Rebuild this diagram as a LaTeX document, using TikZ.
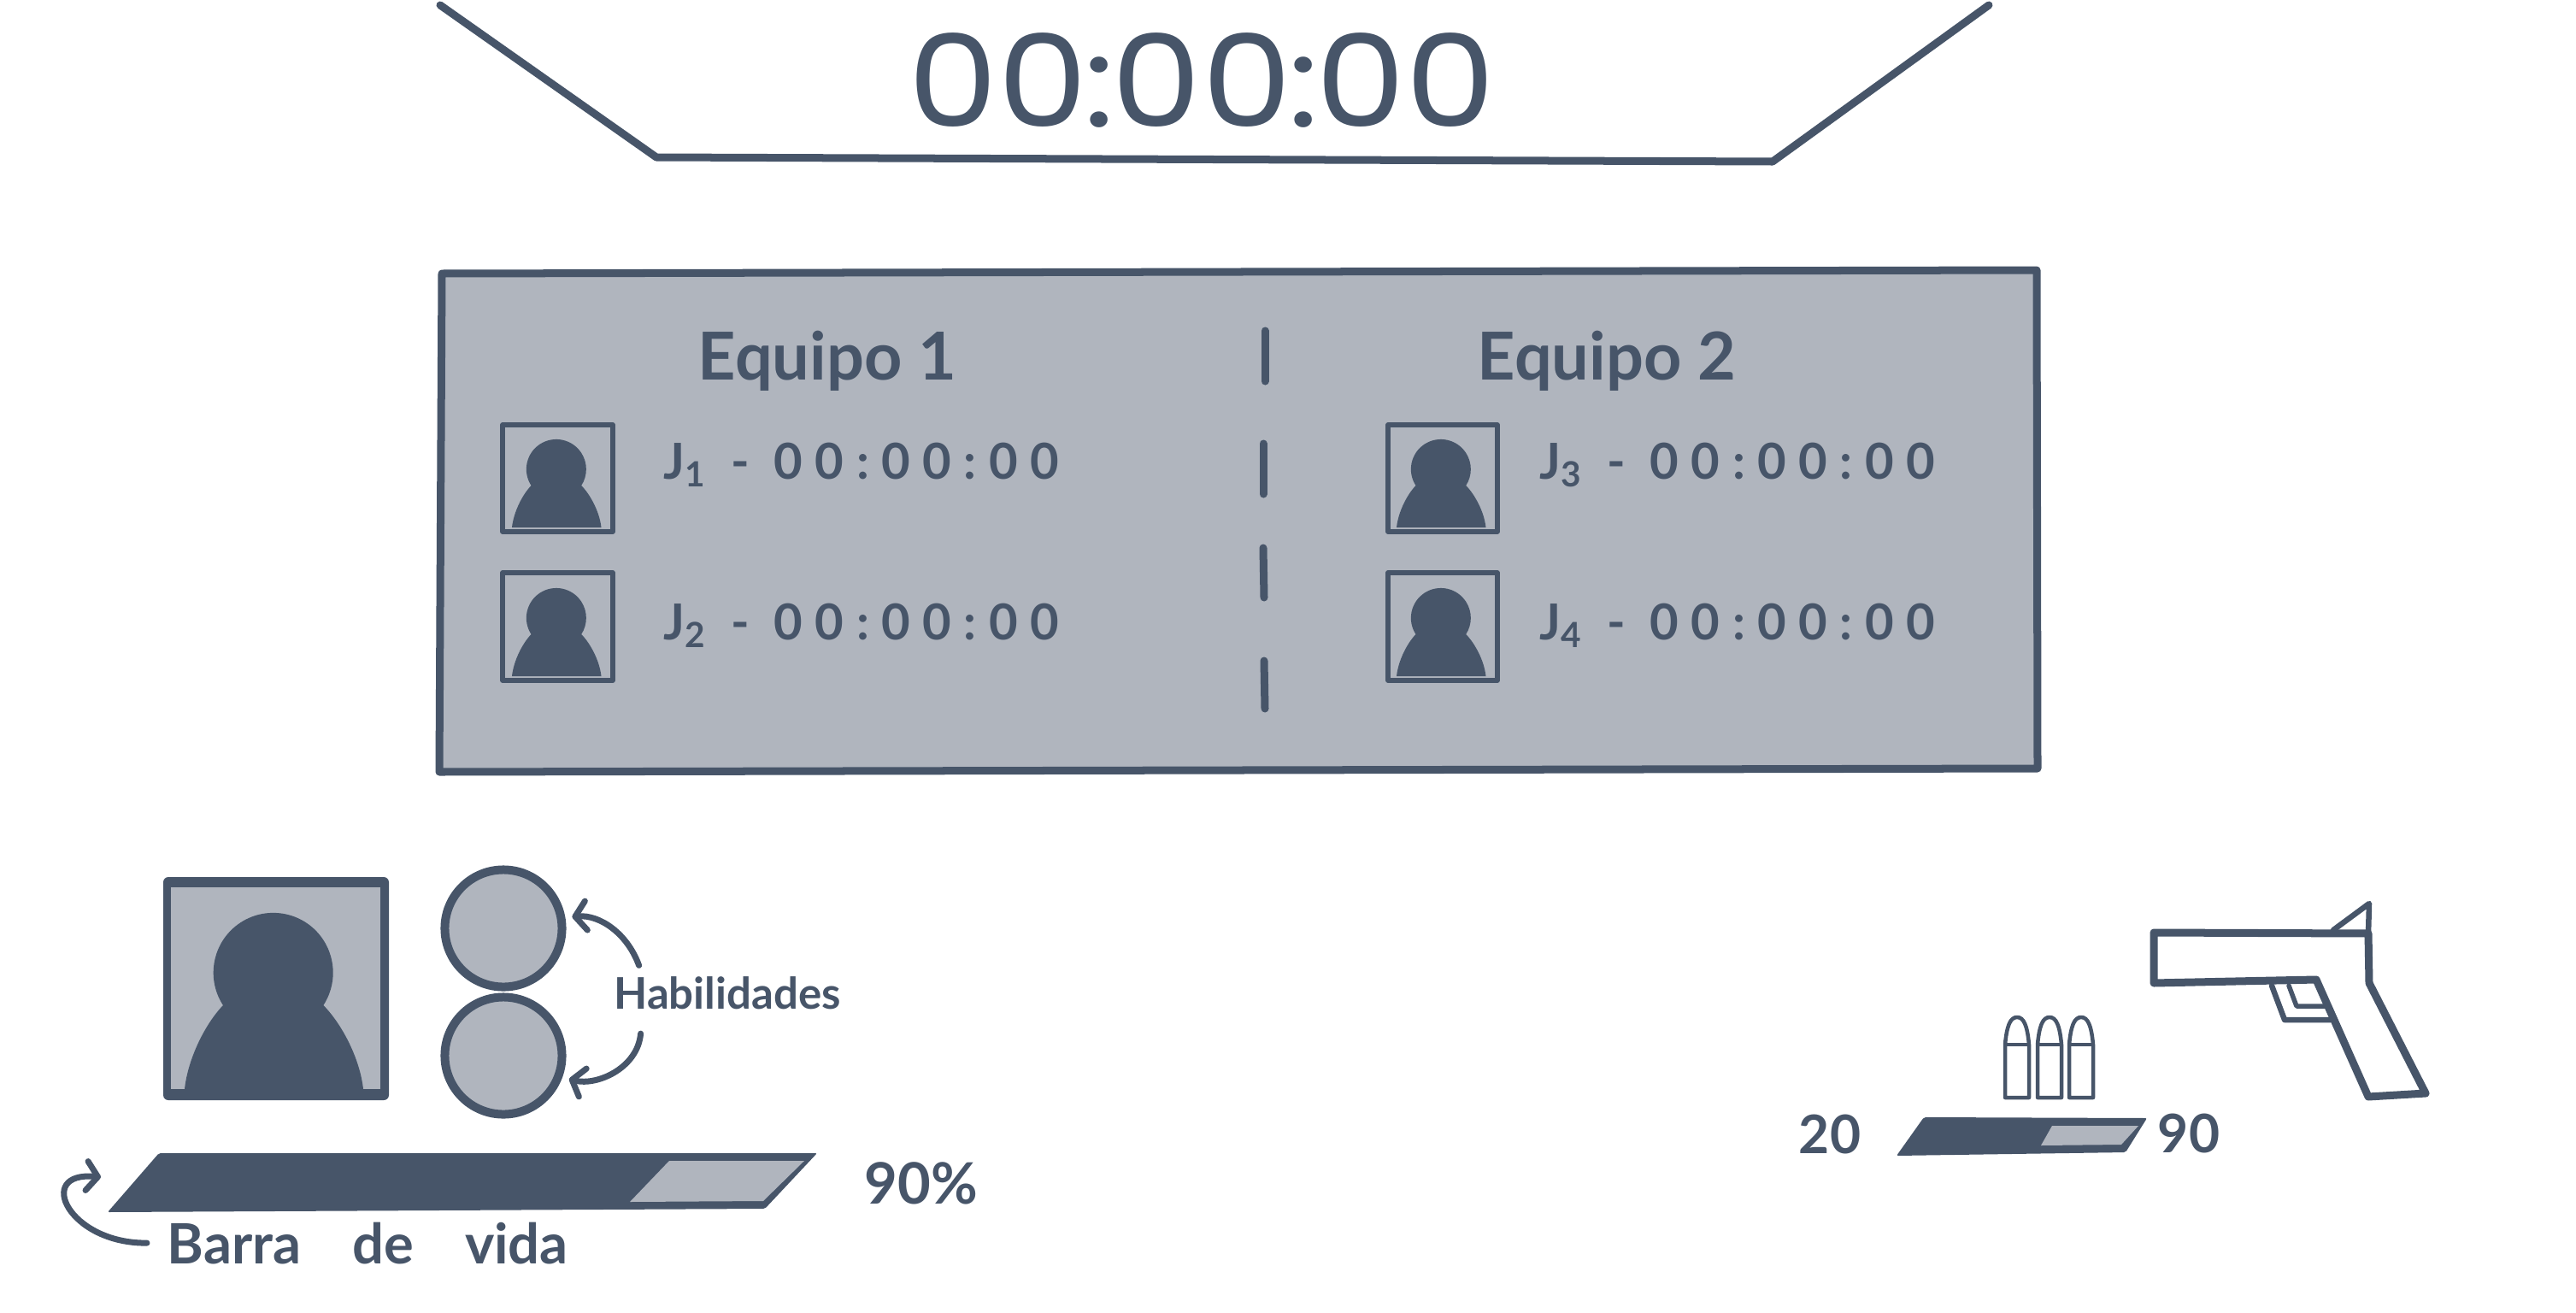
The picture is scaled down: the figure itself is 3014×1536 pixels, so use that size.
\documentclass[tikz,border=0pt]{standalone}
\usepackage{fontspec}
\setmainfont{Lato}
\newfontfamily\reloj{Poppins}
\usetikzlibrary{arrows.meta}
\definecolor{tinta}{HTML}{475569}
\definecolor{claro}{HTML}{B0B5BE}
\tikzset{
  trazo/.style={draw=tinta, line width=0.09cm, line join=round, line cap=round},
  marco/.style={draw=tinta, line width=0.055cm, line join=round},
  bala/.style={draw=tinta, line width=0.045cm, line join=round},
  habilidad/.style={circle, draw=tinta, fill=claro, line width=0.1cm, minimum size=1.37cm, inner sep=0pt},
  flecha/.style={draw=tinta, line width=0.07cm, line cap=round, -{Straight Barb[length=0.13cm, width=0.34cm, round]}, shorten >=0.08cm},
  etiqueta/.style={text=tinta, inner sep=0pt, anchor=base west}
}
\begin{document}
\begin{tikzpicture}[x=0.01cm, y=0.01cm]
\useasboundingbox (0, 0) rectangle (3014, -1536);
% Player silhouette: x, y of the head centre, then the scale
\def\silueta#1#2#3{\fill[tinta, shift={(#1, #2)}, scale=#3] (-59, -38) arc[start angle=213, end angle=-33, radius=70] .. controls (80, -60) and (101, -100) .. (105, -136) -- (-104, -136) .. controls (-100, -100) and (-80, -60) .. (-59, -38) -- cycle;}

% Timer and its frame
\draw[trazo] (515, -6) -- (768, -184) -- (2074, -189) -- (2327, -6);
\node[etiqueta, anchor=base, text=tinta, font=\reloj\fontsize{42.6}{50}\selectfont] (timer) at (1406, -148) {\scalebox{1.12}[1]{00\kern-1pt:\kern-1pt00\kern-1pt:\kern-1pt00}};

% Score panel
\draw[trazo, fill=claro] (517, -320) -- (2383, -316) -- (2384, -899) -- (514, -903) -- cycle;
\node[etiqueta, anchor=base, font=\bfseries\fontsize{22}{28}\selectfont] (equipo1) at (968, -444) {Equipo 1};
\node[etiqueta, anchor=base, font=\bfseries\fontsize{22}{28}\selectfont] (equipo2) at (1880, -444) {Equipo 2};
\draw[trazo] (1480, -387) -- (1480, -446);
\draw[trazo] (1478, -519) -- (1478, -578);
\draw[trazo] (1478, -641) -- (1479, -699);
\draw[trazo] (1479, -773) -- (1480, -829);

% Team 1 players
\draw[marco] (588, -497) rectangle +(129, -125);
\silueta{651}{-549}{0.5}
\node[etiqueta, font=\bfseries\fontsize{16.5}{18}\selectfont\addfontfeature{LetterSpace=25}] (j1) at (776, -560) {J\textsubscript{1} - 00:00:00};
\draw[marco] (588, -670) rectangle +(129, -126);
\silueta{651}{-723}{0.5}
\node[etiqueta, font=\bfseries\fontsize{16.5}{18}\selectfont\addfontfeature{LetterSpace=25}] (j2) at (776, -748) {J\textsubscript{2} - 00:00:00};

% Team 2 players
\draw[marco] (1624, -497) rectangle +(128, -125);
\silueta{1686}{-549}{0.5}
\node[etiqueta, font=\bfseries\fontsize{16.5}{18}\selectfont\addfontfeature{LetterSpace=25}] (j3) at (1801, -560) {J\textsubscript{3} - 00:00:00};
\draw[marco] (1624, -670) rectangle +(128, -126);
\silueta{1686}{-723}{0.5}
\node[etiqueta, font=\bfseries\fontsize{16.5}{18}\selectfont\addfontfeature{LetterSpace=25}] (j4) at (1801, -748) {J\textsubscript{4} - 00:00:00};

% Own portrait
\fill[tinta, rounded corners=0.06cm] (191, -1026) rectangle (455, -1287);
\fill[claro] (200, -1038) rectangle (445, -1274);
\silueta{320}{-1138}{1}

% Skills
\node[habilidad] (hab1) at (589, -1086) {};
\node[habilidad] (hab2) at (589, -1235) {};
\node[etiqueta, anchor=base, font=\bfseries\fontsize{14.5}{18}\selectfont] (habil) at (851, -1180) {Habilidades};
\draw[flecha] ([xshift=0.3cm, yshift=0.12cm]habil.north west) to[out=110, in=5] (hab1.10);
\draw[flecha] ([xshift=0.32cm, yshift=-0.28cm]habil.south west) to[out=-95, in=-15] (hab2.-20);

% Health bar
\coordinate (barra) at (118, -1377);
\fill[tinta, rounded corners=0.02cm] (186, -1349) -- (956, -1349) -- (895, -1414) -- (126, -1418) -- cycle;
\fill[claro] (783, -1358) -- (941, -1358) -- (893, -1405) -- (737, -1406) -- cycle;
\node[etiqueta, font=\bfseries\fontsize{19}{24}\selectfont] (vida) at (1011, -1408) {90\%};
\node[etiqueta, font=\bfseries\fontsize{18.5}{22}\selectfont] (lbarra) at (195, -1478) {Barra\hspace{0.6cm}de\hspace{0.6cm}vida};
\draw[flecha, shorten >=0pt] ([xshift=-0.23cm]lbarra.west) .. controls (80, -1455) and (40, -1370) .. (barra);

% Ammo
\draw[bala] (2346, -1284) -- (2346, -1222) .. controls (2348, -1200) and (2352, -1190) .. (2360, -1190) .. controls (2368, -1190) and (2372, -1200) .. (2374, -1222) -- (2374, -1284) -- cycle;
\draw[bala] (2346, -1222) -- (2374, -1222);
\draw[bala] (2384, -1284) -- (2384, -1222) .. controls (2386, -1200) and (2390, -1190) .. (2398, -1190) .. controls (2406, -1190) and (2410, -1200) .. (2412, -1222) -- (2412, -1284) -- cycle;
\draw[bala] (2384, -1222) -- (2412, -1222);
\draw[bala] (2421, -1284) -- (2421, -1222) .. controls (2423, -1200) and (2427, -1190) .. (2435, -1190) .. controls (2443, -1190) and (2447, -1200) .. (2449, -1222) -- (2449, -1284) -- cycle;
\draw[bala] (2421, -1222) -- (2449, -1222);
\fill[tinta, rounded corners=0.02cm] (2251, -1307) -- (2512, -1308) -- (2487, -1348) -- (2219, -1352) -- cycle;
\fill[claro] (2401, -1317) -- (2502, -1317) -- (2482, -1339) -- (2388, -1340) -- cycle;
\node[etiqueta, anchor=base, font=\bfseries\fontsize{17.7}{21}\selectfont] (cargador) at (2141, -1349) {20};
\node[etiqueta, anchor=base, font=\bfseries\fontsize{17.7}{21}\selectfont] (reserva) at (2561, -1348) {90};

% Gun
\draw[trazo] (2520, -1091) -- (2771, -1092) -- (2772, -1150) -- (2838, -1279) -- (2771, -1283) -- (2710, -1146) -- (2520, -1150) -- cycle;
\draw[trazo, line width=0.065cm] (2771, -1092) -- (2772, -1057) -- (2730, -1088);
\draw[trazo, line width=0.065cm] (2658, -1153) -- (2673, -1193) -- (2727, -1193);
\draw[trazo, line width=0.055cm] (2678, -1153) -- (2687, -1177) -- (2722, -1177);
\end{tikzpicture}
\end{document}
